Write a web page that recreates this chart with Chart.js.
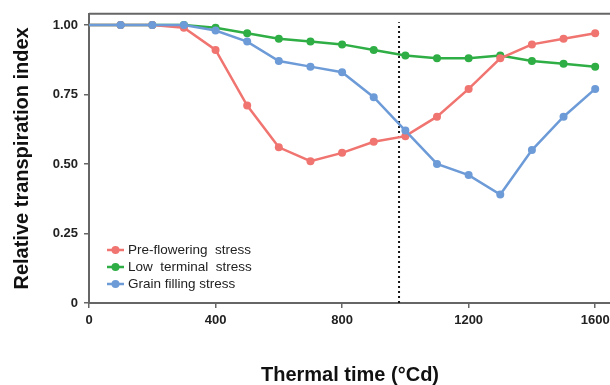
<!DOCTYPE html>
<html>
<head>
<meta charset="utf-8">
<script src="https://cdn.jsdelivr.net/npm/chart.js@4/dist/chart.umd.min.js"></script>
<style>
  html, body { margin: 0; padding: 0; background: #fff; overflow: hidden; }
  #wrap { width: 615px; height: 385px; position: relative; }
</style>
</head>
<body>
<div id="wrap"><canvas id="chart"></canvas></div>
<script>
// thermal time (°Cd) sampling points
const thermalTime = [0, 100, 200, 300, 400, 500, 600, 700, 800, 900, 1000, 1100, 1200, 1300, 1400, 1500, 1600];
const preFlowering = [1.00, 1.00, 1.00, 0.99, 0.91, 0.71, 0.56, 0.51, 0.54, 0.58, 0.60, 0.67, 0.77, 0.88, 0.93, 0.95, 0.97];
const lowTerminal = [1.00, 1.00, 1.00, 1.00, 0.99, 0.97, 0.95, 0.94, 0.93, 0.91, 0.89, 0.88, 0.88, 0.89, 0.87, 0.86, 0.85];
const grainFilling = [1.00, 1.00, 1.00, 1.00, 0.98, 0.94, 0.87, 0.85, 0.83, 0.74, 0.62, 0.50, 0.46, 0.39, 0.55, 0.67, 0.77];
const seriesNames = ["Pre-flowering  stress", "Low  terminal  stress", "Grain filling stress"];
const seriesColors = ["#f07470", "#2fae45", "#6d9bd7"];
const floweringTime = 980;
const xTicks = [0, 400, 800, 1200, 1600];
const yTicks = [0, 0.25, 0.5, 0.75, 1];

const toPoints = vals => thermalTime.map((t, i) => ({ x: t, y: vals[i] }));
const radii = thermalTime.map(t => (t === 0 ? 0 : 4));

function series(label, vals, color, order) {
  return {
    label,
    data: toPoints(vals),
    borderColor: color,
    backgroundColor: color,
    borderWidth: 2.5,
    pointRadius: radii,
    pointBorderWidth: 0,
    tension: 0,
    order
  };
}

// top frame line + inline legend
const framePlugin = {
  id: "frame",
  afterDraw(chart) {
    const { ctx, chartArea } = chart;
    ctx.save();
    ctx.strokeStyle = "#666";
    ctx.lineWidth = 2;
    ctx.beginPath();
    ctx.moveTo(chartArea.left, chartArea.top);
    ctx.lineTo(chartArea.right, chartArea.top);
    ctx.stroke();

    ctx.font = "13.5px Arial, 'Liberation Sans', sans-serif";
    ctx.textBaseline = "middle";
    seriesNames.forEach((name, i) => {
      const y = 250 + i * 17;
      ctx.strokeStyle = seriesColors[i];
      ctx.fillStyle = seriesColors[i];
      ctx.lineWidth = 2.5;
      ctx.beginPath();
      ctx.moveTo(107, y);
      ctx.lineTo(124, y);
      ctx.stroke();
      ctx.beginPath();
      ctx.arc(115.5, y, 4, 0, Math.PI * 2);
      ctx.fill();
      ctx.fillStyle = "#222";
      ctx.fillText(name, 128, y);
    });
    ctx.restore();
  }
};

new Chart(document.getElementById("chart"), {
  type: "line",
  data: {
    datasets: [
      series(seriesNames[0], preFlowering, seriesColors[0], 2),
      series(seriesNames[1], lowTerminal, seriesColors[1], 3),
      series(seriesNames[2], grainFilling, seriesColors[2], 1),
      {
        label: "flowering",
        data: [{ x: floweringTime, y: 0 }, { x: floweringTime, y: 1.01 }],
        borderColor: "#111",
        borderWidth: 2,
        borderDash: [2, 3],
        pointRadius: 0,
        order: 10
      }
    ]
  },
  options: {
    responsive: true,
    maintainAspectRatio: false,
    animation: false,
    layout: { padding: { top: 13, left: 0, right: 0, bottom: 0 } },
    plugins: { legend: { display: false }, tooltip: { enabled: false } },
    scales: {
      x: {
        type: "linear",
        min: 0,
        max: 1650,
        afterBuildTicks: s => { s.ticks = xTicks.map(v => ({ value: v })); },
        afterFit: s => { s.height = 82; },
        grid: { drawOnChartArea: false, drawTicks: true, tickLength: 5, color: "#666", lineWidth: 1.5 },
        border: { display: true, color: "#666", width: 2 },
        ticks: {
          color: "#222",
          padding: 5,
          maxRotation: 0,
          font: { family: "Arial", size: 13, weight: "bold" },
          callback: v => String(v)
        },
        title: {
          display: true,
          text: "Thermal time (°Cd)",
          color: "#111",
          padding: { top: 0, bottom: 0 },
          font: { family: "Arial", size: 20, weight: "bold", lineHeight: 1.0 }
        }
      },
      y: {
        min: 0,
        max: 1.04,
        afterBuildTicks: s => { s.ticks = yTicks.map(v => ({ value: v })); },
        afterFit: s => { s.width = 89; },
        grid: { drawOnChartArea: false, drawTicks: true, tickLength: 5, color: "#666", lineWidth: 1.5 },
        border: { display: true, color: "#666", width: 2 },
        ticks: {
          color: "#222",
          padding: 6,
          font: { family: "Arial", size: 13, weight: "bold" },
          callback: v => (v === 0 ? "0" : v.toFixed(2))
        },
        title: {
          display: true,
          text: "Relative transpiration index",
          color: "#111",
          padding: { top: 10, bottom: 0 },
          font: { family: "Arial", size: 20, weight: "bold", lineHeight: 1.2 }
        }
      }
    }
  },
  plugins: [framePlugin]
});
</script>
</body>
</html>
